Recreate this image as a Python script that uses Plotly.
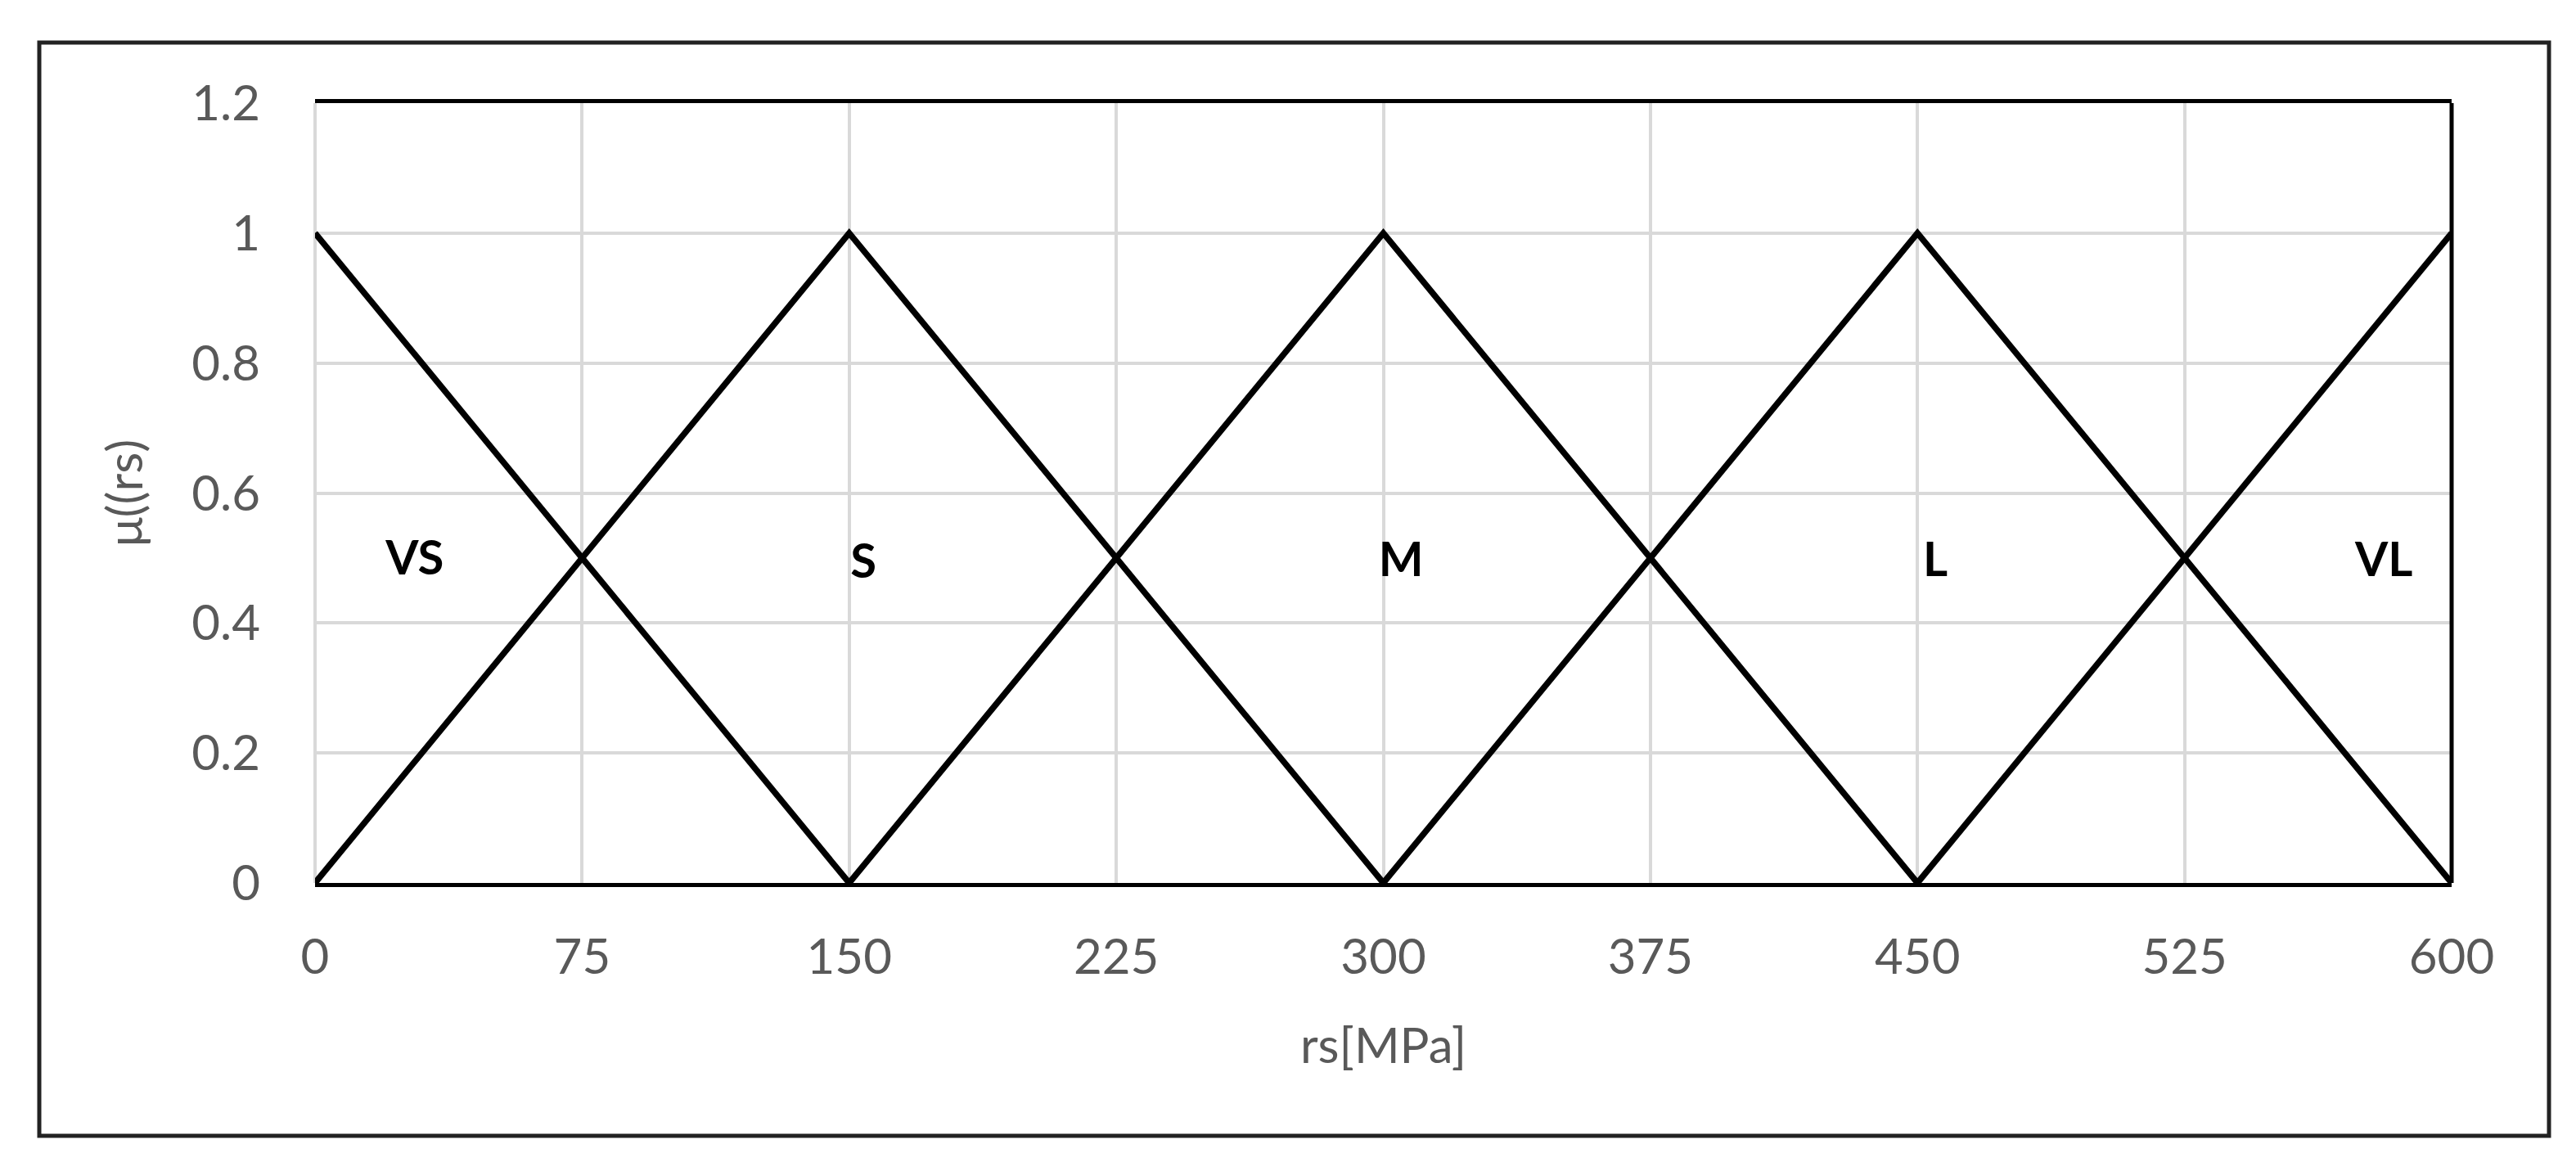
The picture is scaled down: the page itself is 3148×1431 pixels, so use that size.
import plotly.graph_objects as go

# membership functions (triangles)
vs_x = [0, 150]
vs_y = [1, 0]
s_x = [0, 150, 300]
s_y = [0, 1, 0]
m_x = [150, 300, 450]
m_y = [0, 1, 0]
l_x = [300, 450, 600]
l_y = [0, 1, 0]
vl_x = [450, 600]
vl_y = [0, 1]

# term labels
etiquetas = ['VS', 'S', 'M', 'L', 'VL']
etiq_x = [28, 154, 305, 455, 581]
etiq_y = [0.493, 0.488, 0.49, 0.49, 0.49]

x_ticks = [0, 75, 150, 225, 300, 375, 450, 525, 600]
y_ticks = [0, 0.2, 0.4, 0.6, 0.8, 1, 1.2]

W, H = 3148, 1431
L, R, T, B = 377, 2988, 118, 1071

fig = go.Figure()
for xs, ys in [(vs_x, vs_y), (s_x, s_y), (m_x, m_y), (l_x, l_y), (vl_x, vl_y)]:
    fig.add_trace(go.Scatter(x=xs, y=ys, mode='lines',
                             line=dict(color='black', width=7.5),
                             showlegend=False, hoverinfo='skip'))

fig.add_trace(go.Scatter(x=etiq_x, y=etiq_y, mode='text', text=etiquetas,
                         textfont=dict(family='Lato', size=58, color='black',
                                       weight='bold'),
                         showlegend=False, hoverinfo='skip'))


def px_x(p):
    return (p - L) / (R - L)


def px_y(p):
    return (B - p) / (B - T)


fig.update_layout(
    width=W, height=H,
    margin=dict(l=L, r=W - R, t=T, b=H - B),
    paper_bgcolor='white', plot_bgcolor='white',
    font=dict(family='Lato', size=60, color='#595959'),
    shapes=[
        # right border of the plot area
        dict(type='line', xref='paper', yref='paper', x0=1, x1=1, y0=0, y1=1,
             line=dict(color='black', width=5)),
        # outer frame
        dict(type='rect', xref='paper', yref='paper',
             x0=px_x(40), x1=px_x(3107), y0=px_y(1380), y1=px_y(44),
             line=dict(color='#222222', width=5), layer='below'),
    ],
)

fig.update_xaxes(
    range=[0, 600], tickvals=x_ticks,
    showgrid=True, gridcolor='#d9d9d9', gridwidth=4,
    zeroline=True, zerolinecolor='#d9d9d9', zerolinewidth=4,
    showline=True, linecolor='black', linewidth=5, mirror=True,
    ticks='', ticklabelstandoff=34,
    tickfont=dict(size=60, color='#595959'),
    title=dict(text='rs[MPa]', standoff=56, font=dict(size=60, color='#595959')),
)
fig.update_yaxes(
    range=[0, 1.2], tickvals=y_ticks,
    showgrid=True, gridcolor='#d9d9d9', gridwidth=4,
    zeroline=False, showline=False,
    ticks='', ticklabelstandoff=66,
    tickfont=dict(size=60, color='#595959'),
    title=dict(text='μ((rs)', standoff=40, font=dict(size=60, color='#595959')),
)

fig.write_html("out.html")
